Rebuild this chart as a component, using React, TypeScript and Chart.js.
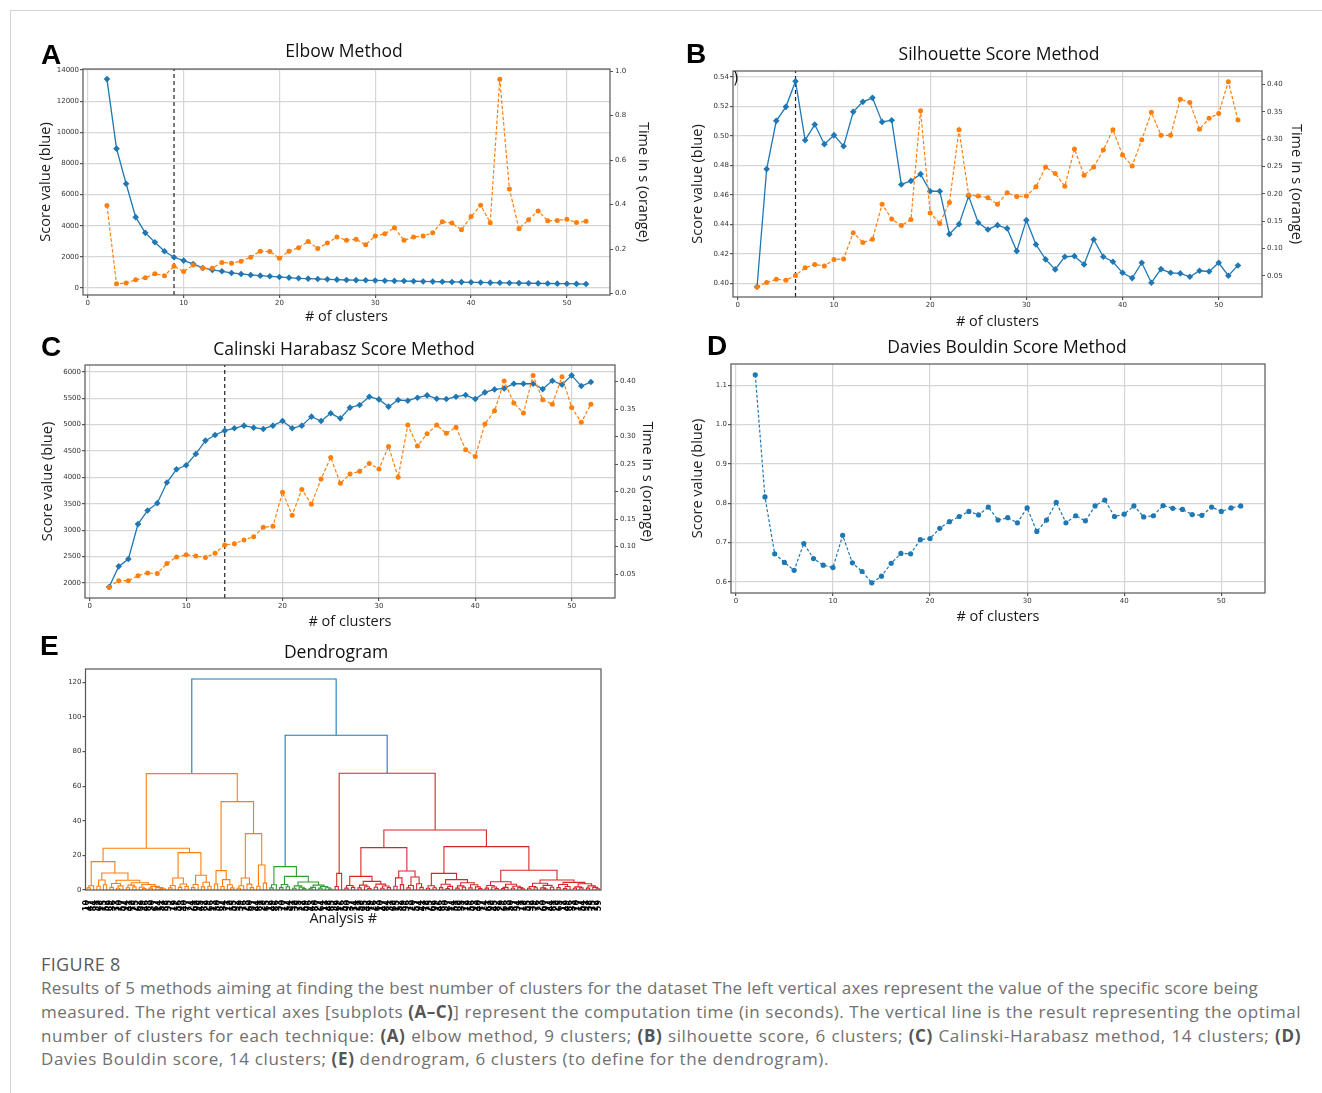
import React, { useEffect, useRef } from 'react';
import { Chart, registerables } from 'chart.js';

Chart.register(...registerables);

// ---------------- data ----------------
const CLUSTERS = [2, 3, 4, 5, 6, 7, 8, 9, 10, 11, 12, 13, 14, 15, 16, 17, 18, 19, 20, 21, 22, 23, 24, 25, 26, 27,
  28, 29, 30, 31, 32, 33, 34, 35, 36, 37, 38, 39, 40, 41, 42, 43, 44, 45, 46, 47, 48, 49, 50, 51, 52];

const ELBOW_SCORE = [13420, 8954, 6700, 4552, 3543, 2942, 2362, 1975, 1761, 1546, 1288, 1160, 1074, 966, 902, 837,
  794, 752, 709, 666, 623, 600, 580, 558, 537, 515, 505, 495, 485, 470, 455, 445, 435, 420, 410, 400, 390, 380, 365,
  355, 345, 335, 325, 315, 305, 300, 290, 280, 275, 265, 255];
const ELBOW_TIME = [0.396, 0.044, 0.048, 0.062, 0.071, 0.089, 0.081, 0.123, 0.099, 0.129, 0.114, 0.114, 0.140, 0.137,
  0.146, 0.164, 0.191, 0.189, 0.159, 0.191, 0.206, 0.234, 0.203, 0.227, 0.254, 0.240, 0.244, 0.220, 0.259, 0.269,
  0.296, 0.240, 0.254, 0.259, 0.274, 0.323, 0.317, 0.287, 0.346, 0.397, 0.319, 0.963, 0.470, 0.292, 0.332, 0.371,
  0.328, 0.329, 0.334, 0.320, 0.325];
const ELBOW_OPTIMAL = 9;

const SIL_SCORE = [0.3977, 0.4775, 0.5102, 0.5197, 0.5371, 0.4971, 0.5077, 0.4944, 0.5005, 0.4930, 0.5163, 0.5231,
  0.5258, 0.5095, 0.5106, 0.4671, 0.4695, 0.4741, 0.4625, 0.4625, 0.4334, 0.4402, 0.4592, 0.4411, 0.4366, 0.4395,
  0.4373, 0.4219, 0.4429, 0.4264, 0.4163, 0.4095, 0.4181, 0.4185, 0.4129, 0.4298, 0.4181, 0.4147, 0.4072, 0.4036,
  0.4140, 0.4005, 0.4097, 0.4072, 0.4068, 0.4045, 0.4086, 0.4081, 0.4140, 0.4052, 0.4122];
const SIL_TIME = [0.030, 0.038, 0.044, 0.042, 0.051, 0.065, 0.071, 0.068, 0.080, 0.081, 0.129, 0.111, 0.117, 0.181,
  0.154, 0.142, 0.153, 0.352, 0.165, 0.146, 0.184, 0.317, 0.198, 0.196, 0.193, 0.181, 0.202, 0.195, 0.196, 0.213,
  0.249, 0.237, 0.214, 0.282, 0.234, 0.249, 0.280, 0.317, 0.271, 0.251, 0.299, 0.349, 0.307, 0.307, 0.373, 0.367,
  0.318, 0.338, 0.347, 0.405, 0.335];
const SIL_OPTIMAL = 6;

const CH_SCORE = [1924, 2315, 2454, 3115, 3373, 3512, 3902, 4154, 4230, 4444, 4696, 4803, 4885, 4929, 4980, 4942,
  4917, 4980, 5068, 4929, 4980, 5150, 5068, 5213, 5118, 5320, 5370, 5528, 5477, 5339, 5465, 5452, 5509, 5553, 5490,
  5483, 5528, 5559, 5483, 5609, 5666, 5685, 5773, 5773, 5773, 5672, 5830, 5754, 5931, 5729, 5805];
const CH_TIME = [0.026, 0.038, 0.038, 0.047, 0.052, 0.051, 0.069, 0.081, 0.085, 0.083, 0.080, 0.088, 0.103, 0.105,
  0.112, 0.118, 0.135, 0.137, 0.199, 0.157, 0.204, 0.177, 0.223, 0.262, 0.215, 0.232, 0.237, 0.251, 0.241, 0.282,
  0.226, 0.321, 0.283, 0.305, 0.321, 0.306, 0.317, 0.276, 0.264, 0.323, 0.347, 0.401, 0.361, 0.343, 0.411, 0.367,
  0.359, 0.409, 0.353, 0.326, 0.359];
const CH_OPTIMAL = 14;

const DB_SCORE = [1.127, 0.816, 0.671, 0.649, 0.629, 0.697, 0.659, 0.642, 0.636, 0.718, 0.648, 0.626, 0.597, 0.614,
  0.647, 0.672, 0.671, 0.707, 0.710, 0.736, 0.753, 0.766, 0.779, 0.770, 0.790, 0.757, 0.763, 0.750, 0.788, 0.728,
  0.757, 0.802, 0.750, 0.768, 0.755, 0.793, 0.808, 0.766, 0.772, 0.793, 0.765, 0.768, 0.794, 0.787, 0.784, 0.771,
  0.769, 0.790, 0.779, 0.788, 0.793];

const X_TICKS = [0, 10, 20, 30, 40, 50];
const ELBOW_TICKS = [0, 2000, 4000, 6000, 8000, 10000, 12000, 14000];
const ELBOW_TIME_TICKS = [0.0, 0.2, 0.4, 0.6, 0.8, 1.0];
const SIL_TICKS = [0.40, 0.42, 0.44, 0.46, 0.48, 0.50, 0.52, 0.54];
const TIME_TICKS = [0.05, 0.10, 0.15, 0.20, 0.25, 0.30, 0.35, 0.40];
const CH_TICKS = [2000, 2500, 3000, 3500, 4000, 4500, 5000, 5500, 6000];
const DB_TICKS = [0.6, 0.7, 0.8, 0.9, 1.0, 1.1];
const DENDRO_TICKS = [0, 20, 40, 60, 80, 100, 120];

// Dendrogram: a node is a leaf (0) or [merge height, left, right]
type DNode = number | [number, DNode, DNode];
const ORANGE_A1: DNode = [16.4,
  [2.5, [1.2, 0, 0], 0],
  [9.8,
    [5.8, [2.2, 0, 0], [3.0, 0, 0]],
    [5.6,
      [3.8, [1.5, 0, 0], [2.4, [1.0, 0, 0], 0]],
      [4.2,
        [2.8, [1.3, 0, 0], [1.8, 0, 0]],
        [3.2, [1.6, 0, [0.9, 0, 0]], [2.1, [1.1, 0, 0], [1.4, 0, [0.7, [0.4, 0, 0], 0]]]]]]]];
const ORANGE_A2: DNode = [21.6,
  [6.9, [2.6, [1.2, 0, 0], 0], [3.5, [1.5, 0, 0], [2.0, 0, 0]]],
  [8.5, [3.2, [1.4, 0, 0], 0], [4.5, [1.8, 0, 0], [2.2, 0, 0]]]];
const ORANGE_B: DNode = [51.1,
  [11.2, [3.5, 0, 0], [6.0, [2.0, 0, 0], [3.0, 0, [1.2, 0, 0]]]],
  [32.6,
    [6.9, [2.5, [1.0, 0, 0], 0], [3.4, 0, [1.4, 0, 0]]],
    [14.5, [2.2, 0, 0], [4.0, 0, 0]]]];
const ORANGE_CLUSTER: DNode = [67.3, [24.1, ORANGE_A1, ORANGE_A2], ORANGE_B];

const GREEN_CLUSTER: DNode = [13.5,
  [3.0, [1.2, 0, 0], 0],
  [7.9,
    [3.2, [1.4, 0, 0], [1.9, 0, 0]],
    [4.6,
      [2.4, [1.0, 0, 0], [1.6, 0, [0.8, 0, 0]]],
      [2.8, [1.5, [0.7, 0, 0], 0], [2.0, [1.1, 0, 0], [1.3, 0, [0.6, 0, 0]]]]]]];

const RED_R1: DNode = [9.6, [2.0, 0, 0], 0];
const RED_R2: DNode = [24.5,
  [7.9,
    [2.6, [1.1, 0, 0], [1.5, 0, 0]],
    [5.0, [2.8, [1.2, 0, 0], [1.9, 0, [0.9, 0, 0]]], [3.4, [1.6, 0, 0], [2.3, [1.0, 0, 0], [1.4, 0, 0]]]]],
  [11.0,
    [7.0, [2.2, 0, 0], [3.1, 0, 0]],
    [7.5, [2.6, [1.2, 0, 0], 0], [3.6, 0, [1.5, 0, 0]]]]];
const RED_R3: DNode = [25.1,
  [9.6,
    [2.5, [1.0, 0, 0], [1.3, 0, 0]],
    [6.0,
      [3.3, [1.4, 0, 0], [2.1, [0.9, 0, 0], 0]],
      [4.2, [2.4, [1.1, 0, 0], [1.6, 0, 0]], [3.0, [1.2, 0, 0], [1.8, 0, [0.8, 0, 0]]]]]],
  [11.4,
    [4.8,
      [2.6, [1.1, 0, 0], [1.7, 0, [0.9, 0, 0]]],
      [3.3, [1.5, [0.8, 0, 0], 0], [2.2, [1.0, 0, 0], [1.4, 0, [0.7, 0, 0]]]]],
    [5.8,
      [3.9, [2.0, [1.0, 0, 0], [1.3, 0, 0]], [2.7, [1.2, 0, [0.6, 0, 0]], [1.6, 0, 0]]],
      [4.4,
        [3.2, [1.4, 0, 0], [2.0, [0.9, 0, 0], 0]],
        [3.6, [1.8, [1.0, 0, 0], [1.2, 0, 0]], [2.4, [1.1, 0, 0], [1.5, 0, [0.7, 0, 0]]]]]]]];
const RED_CLUSTER: DNode = [67.5, RED_R1, [34.7, RED_R2, RED_R3]];

const GREEN_RED_MERGE_H = 89.5;
const ROOT_MERGE_H = 122;

// ---------------- styling ----------------
const BLUE = '#1f77b4';
const ORANGE = '#ff7f0e';
const GREEN = '#2ca02c';
const RED = '#d62728';
const GRID_COLOR = '#d6d6d6';
const SPINE = '#555555';
const TICK_FONT = { family: "'DejaVu Sans', sans-serif", size: 7 };
const TITLE_FONT = { family: "'Open Sans', sans-serif", size: 14.5 };

const framePlugin = {
  id: 'frame',
  afterDatasetsDraw(chart: any) {
    const { ctx, chartArea: a } = chart;
    ctx.save();
    ctx.strokeStyle = SPINE;
    ctx.lineWidth = 1.2;
    ctx.strokeRect(a.left, a.top, a.right - a.left, a.bottom - a.top);
    ctx.restore();
  },
};

interface AxisSpec {
  min: number; max: number; ticks: number[]; digits: number; title?: string; titleX?: number; grid?: boolean;
}
interface PanelSpec {
  box: { l: number; t: number; w: number; h: number };
  plot: { l: number; t: number; r: number; b: number };
  x: { min: number; max: number; ticks: number[]; title: string; titleY: number; grid: boolean; labels?: string[] };
  y: AxisSpec;
  y1?: AxisSpec;
  datasets: any[];
}

function makeConfig(p: PanelSpec): any {
  const boxR = p.box.l + p.box.w;
  const boxB = p.box.t + p.box.h;
  const half = (TITLE_FONT.size * 1.2) / 2;
  const labels = p.x.labels;
  const scales: any = {
    x: {
      type: 'linear', position: 'bottom', min: p.x.min, max: p.x.max,
      afterBuildTicks: (ax: any) => { ax.ticks = p.x.ticks.map((v) => ({ value: v })); },
      afterFit: (ax: any) => { ax.height = boxB - p.plot.b; },
      grid: labels
        ? { display: false }
        : { display: true, drawOnChartArea: p.x.grid, color: GRID_COLOR, lineWidth: 1.2, tickColor: SPINE, tickLength: 3 },
      border: { display: false },
      ticks: labels
        ? { font: { family: "'DejaVu Sans', sans-serif", size: 8, weight: 'bold' }, color: '#000', padding: 2,
            autoSkip: false, minRotation: 90, maxRotation: 90, callback: (_v: any, i: number) => labels[i] }
        : { font: TICK_FONT, color: '#333', padding: 1, autoSkip: false, minRotation: 0, maxRotation: 0,
            callback: (v: any) => String(v) },
      title: { display: true, text: p.x.title, font: TITLE_FONT, color: '#1a1a1a',
        padding: { top: 0, bottom: boxB - p.x.titleY - half } },
    },
    y: {
      type: 'linear', position: 'left', min: p.y.min, max: p.y.max,
      afterBuildTicks: (ax: any) => { ax.ticks = p.y.ticks.map((v) => ({ value: v })); },
      afterFit: (ax: any) => { ax.width = p.plot.l - p.box.l; },
      grid: { display: true, drawOnChartArea: !!p.y.grid, color: GRID_COLOR, lineWidth: 1.2, tickColor: SPINE, tickLength: 3 },
      border: { display: false },
      ticks: { font: TICK_FONT, color: '#333', padding: 1, callback: (v: any) => Number(v).toFixed(p.y.digits) },
      title: p.y.title
        ? { display: true, text: p.y.title, font: TITLE_FONT, color: '#1a1a1a',
            padding: { top: (p.y.titleX as number) - p.box.l - half, bottom: 0 } }
        : { display: false },
    },
  };
  if (p.y1) {
    const y1 = p.y1;
    scales.y1 = {
      type: 'linear', position: 'right', min: y1.min, max: y1.max,
      afterBuildTicks: (ax: any) => { ax.ticks = y1.ticks.map((v) => ({ value: v })); },
      afterFit: (ax: any) => { ax.width = boxR - p.plot.r; },
      grid: { display: true, drawOnChartArea: false, tickColor: SPINE, tickLength: 3 },
      border: { display: false },
      ticks: { font: TICK_FONT, color: '#333', padding: 2, callback: (v: any) => Number(v).toFixed(y1.digits) },
      title: { display: true, text: y1.title, font: TITLE_FONT, color: '#1a1a1a',
        padding: { top: boxR - (y1.titleX as number) - half, bottom: 0 } },
    };
  }
  return {
    type: 'line',
    data: { datasets: p.datasets },
    options: {
      animation: false,
      responsive: false,
      maintainAspectRatio: false,
      layout: { padding: { left: 0, top: p.plot.t - p.box.t, right: p.y1 ? 0 : boxR - p.plot.r, bottom: 0 } },
      plugins: { legend: { display: false }, tooltip: { enabled: false }, title: { display: false } },
      elements: { line: { tension: 0 } },
      scales,
    },
    plugins: [framePlugin],
  };
}

function scoreSet(values: number[]) {
  return {
    label: 'score', data: CLUSTERS.map((x, i) => ({ x, y: values[i] })), yAxisID: 'y',
    borderColor: BLUE, backgroundColor: BLUE, borderWidth: 1.3, pointStyle: 'rectRot', pointRadius: 3.3,
    pointBorderWidth: 0, fill: false, order: 2,
  };
}
function timeSet(values: number[]) {
  return {
    label: 'time', data: CLUSTERS.map((x, i) => ({ x, y: values[i] })), yAxisID: 'y1',
    borderColor: ORANGE, backgroundColor: ORANGE, borderWidth: 1.2, borderDash: [3.5, 2], pointStyle: 'circle',
    pointRadius: 2.5, pointBorderWidth: 0, fill: false, order: 1,
  };
}
function optimalSet(x: number, min: number, max: number) {
  return {
    label: 'optimal', data: [{ x, y: min }, { x, y: max }], yAxisID: 'y', borderColor: '#222',
    borderWidth: 1.2, borderDash: [4, 3], pointRadius: 0, fill: false, order: 3,
  };
}

function buildDendrogram() {
  const segs: Record<string, { x: number; y: number | null }[]> = { C0: [], C1: [], C2: [], C3: [] };
  let leaf = 0;
  const link = (A: { x: number; y: number }, B: { x: number; y: number }, h: number, color: string) => {
    segs[color].push({ x: A.x, y: A.y }, { x: A.x, y: h }, { x: B.x, y: h }, { x: B.x, y: B.y }, { x: B.x, y: null });
    return { x: (A.x + B.x) / 2, y: h };
  };
  const walk = (n: DNode, color: string): { x: number; y: number } => {
    if (typeof n === 'number') {
      const x = 5 + 10 * leaf;
      leaf += 1;
      return { x, y: 0 };
    }
    const A = walk(n[1], color);
    const B = walk(n[2], color);
    return link(A, B, n[0], color);
  };
  const o = walk(ORANGE_CLUSTER, 'C1');
  const g = walk(GREEN_CLUSTER, 'C2');
  const r = walk(RED_CLUSTER, 'C3');
  const gr = link(g, r, GREEN_RED_MERGE_H, 'C0');
  link(o, gr, ROOT_MERGE_H, 'C0');
  return { segs, n: leaf };
}

const lineSet = (data: any[], color: string) => ({
  data, borderColor: color, borderWidth: 1.1, pointRadius: 0, fill: false, spanGaps: false,
  borderCapStyle: 'butt', borderJoinStyle: 'miter',
});

// ---------------- component ----------------
export default function App() {
  const refA = useRef<HTMLCanvasElement>(null);
  const refB = useRef<HTMLCanvasElement>(null);
  const refC = useRef<HTMLCanvasElement>(null);
  const refD = useRef<HTMLCanvasElement>(null);
  const refE = useRef<HTMLCanvasElement>(null);
  const capRefs = useRef<(HTMLDivElement | null)[]>([]);

  const specA: PanelSpec = {
    box: { l: 28, t: 62, w: 640, h: 270 }, plot: { l: 83, t: 69, r: 610, b: 295 },
    x: { min: -0.5, max: 54.5, ticks: X_TICKS, title: '# of clusters', titleY: 317, grid: true },
    y: { min: -450, max: 14070, ticks: ELBOW_TICKS, digits: 0, title: 'Score value (blue)', titleX: 46, grid: true },
    y1: { min: -0.006, max: 1.009, ticks: ELBOW_TIME_TICKS, digits: 1, title: 'Time in s (orange)', titleX: 643 },
    datasets: [scoreSet(ELBOW_SCORE), timeSet(ELBOW_TIME), optimalSet(ELBOW_OPTIMAL, -450, 14070)],
  };
  const specB: PanelSpec = {
    box: { l: 680, t: 62, w: 640, h: 270 }, plot: { l: 733, t: 71, r: 1262, b: 297 },
    x: { min: -0.5, max: 54.5, ticks: X_TICKS, title: '# of clusters', titleY: 321.5, grid: true },
    y: { min: 0.3908, max: 0.544, ticks: SIL_TICKS, digits: 2, title: 'Score value (blue)', titleX: 698, grid: true },
    y1: { min: 0.0115, max: 0.4245, ticks: TIME_TICKS, digits: 2, title: 'Time in s (orange)', titleX: 1296 },
    datasets: [scoreSet(SIL_SCORE), timeSet(SIL_TIME), optimalSet(SIL_OPTIMAL, 0.3908, 0.544)],
  };
  const specC: PanelSpec = {
    box: { l: 28, t: 356, w: 640, h: 280 }, plot: { l: 85, t: 365, r: 615, b: 598 },
    x: { min: -0.5, max: 54.5, ticks: X_TICKS, title: '# of clusters', titleY: 621.5, grid: true },
    y: { min: 1716, max: 6128, ticks: CH_TICKS, digits: 0, title: 'Score value (blue)', titleX: 48, grid: true },
    y1: { min: 0.0064, max: 0.4303, ticks: TIME_TICKS, digits: 2, title: 'Time in s (orange)', titleX: 647 },
    datasets: [scoreSet(CH_SCORE), timeSet(CH_TIME), optimalSet(CH_OPTIMAL, 1716, 6128)],
  };
  const specD: PanelSpec = {
    box: { l: 680, t: 356, w: 620, h: 280 }, plot: { l: 731, t: 364, r: 1265, b: 593 },
    x: { min: -0.5, max: 54.5, ticks: X_TICKS, title: '# of clusters', titleY: 616.5, grid: true },
    y: { min: 0.5712, max: 1.1545, ticks: DB_TICKS, digits: 1, title: 'Score value (blue)', titleX: 698, grid: true },
    datasets: [{
      label: 'db', data: CLUSTERS.map((x, i) => ({ x, y: DB_SCORE[i] })), yAxisID: 'y',
      borderColor: BLUE, backgroundColor: BLUE, borderWidth: 1.2, borderDash: [3, 2], pointStyle: 'circle',
      pointRadius: 2.6, pointBorderWidth: 0, fill: false,
    }],
  };

  useEffect(() => {
    const dendro = buildDendrogram();
    const leafTicks: number[] = [];
    const leafLabels: string[] = [];
    for (let i = 0; i < dendro.n; i++) {
      leafTicks.push(5 + 10 * i);
      leafLabels.push(String(10 + ((i * 37) % 90)));
    }
    const specE: PanelSpec = {
      box: { l: 28, t: 660, w: 600, h: 270 }, plot: { l: 85.5, t: 669, r: 601, b: 890 },
      x: { min: 0, max: 10 * dendro.n, ticks: leafTicks, labels: leafLabels, title: 'Analysis #', titleY: 919, grid: false },
      y: { min: 0, max: 127.8, ticks: DENDRO_TICKS, digits: 0, grid: false },
      datasets: [
        lineSet(dendro.segs.C1, ORANGE), lineSet(dendro.segs.C2, GREEN),
        lineSet(dendro.segs.C3, RED), lineSet(dendro.segs.C0, BLUE),
      ],
    };
    const charts = [
      new Chart(refA.current as HTMLCanvasElement, makeConfig(specA)),
      new Chart(refB.current as HTMLCanvasElement, makeConfig(specB)),
      new Chart(refC.current as HTMLCanvasElement, makeConfig(specC)),
      new Chart(refD.current as HTMLCanvasElement, makeConfig(specD)),
      new Chart(refE.current as HTMLCanvasElement, makeConfig(specE)),
    ];
    // fit caption lines: the last line sets the natural letter spacing (it spans 788 px in the figure)
    const divs = capRefs.current.filter(Boolean) as HTMLDivElement[];
    const measure = (d: HTMLDivElement) => (d.firstElementChild as HTMLElement).getBoundingClientRect().width;
    const textLen = (d: HTMLDivElement) => ((d.firstElementChild as HTMLElement).textContent || '').length;
    const last = divs[divs.length - 1];
    if (last) {
      const w4 = measure(last);
      const base = (788 - w4) / textLen(last);
      divs.forEach((d) => { d.style.letterSpacing = base.toFixed(3) + 'px'; });
      divs.forEach((d) => {
        const target = Number(d.dataset.target);
        if (d === last) return;
        const w = measure(d);
        if (w > target - 3) {
          d.style.letterSpacing = (base + (target - 5 - w) / textLen(d)).toFixed(3) + 'px';
        }
      });
    }
    return () => charts.forEach((c) => c.destroy());
  }, []);

  const canvasStyle = (s: PanelSpec): React.CSSProperties => ({ position: 'absolute', left: s.box.l, top: s.box.t });
  const letter = (ch: string, left: number, top: number) => (
    <span style={{ position: 'absolute', left, top, font: "bold 28px 'Liberation Sans', Arial, sans-serif", lineHeight: 1, color: '#000' }}>{ch}</span>
  );
  const title = (text: string, cx: number, top: number) => (
    <span style={{ position: 'absolute', left: cx, top, transform: 'translateX(-50%)', whiteSpace: 'nowrap',
      font: "17.5px 'Open Sans', sans-serif", lineHeight: 1, color: '#111' }}>{text}</span>
  );
  const capBase: React.CSSProperties = {
    position: 'absolute', left: 41, font: "17px 'Open Sans', sans-serif", lineHeight: '24px', color: '#707070',
    whiteSpace: 'nowrap',
  };
  const B = (t: string) => <b style={{ fontWeight: 700, color: '#555' }}>{t}</b>;
  const capLine = (i: number, top: number, target: number, justify: boolean, content: React.ReactNode) => (
    <div ref={(el) => { capRefs.current[i] = el; }} data-target={target}
      style={{ ...capBase, top, width: target, textAlign: justify ? 'justify' : 'left', textAlignLast: justify ? 'justify' : 'left' } as React.CSSProperties}>
      <span>{content}</span>
    </div>
  );

  return (
    <div style={{ position: 'absolute', left: 0, top: 0, width: 1322, height: 1093, overflow: 'hidden', background: '#fff' }}>
      <div style={{ position: 'absolute', left: 10, top: 10, width: 1330, height: 1100, borderTop: '1px solid #d4d4d4', borderLeft: '1px solid #d4d4d4' }} />
      <canvas ref={refA} width={specA.box.w} height={specA.box.h} style={canvasStyle(specA)} />
      <canvas ref={refB} width={specB.box.w} height={specB.box.h} style={canvasStyle(specB)} />
      <canvas ref={refC} width={specC.box.w} height={specC.box.h} style={canvasStyle(specC)} />
      <canvas ref={refD} width={specD.box.w} height={specD.box.h} style={canvasStyle(specD)} />
      <canvas ref={refE} width={600} height={270} style={{ position: 'absolute', left: 28, top: 660 }} />
      {letter('A', 41, 41.3)}
      {letter('B', 686, 40.3)}
      {letter('C', 41, 333.3)}
      {letter('D', 707, 332.3)}
      {letter('E', 40, 632.3)}
      {title('Elbow Method', 344, 41.5)}
      {title('Silhouette Score Method', 999, 44.5)}
      {title('Calinski Harabasz Score Method', 344, 340)}
      {title('Davies Bouldin Score Method', 1007, 337.5)}
      {title('Dendrogram', 336, 642.5)}
      <span style={{ position: 'absolute', left: 733, top: 71, font: "15px 'DejaVu Sans', sans-serif", lineHeight: 1, color: '#111' }}>)</span>
      <div style={{ position: 'absolute', left: 41, top: 952, font: "500 18px 'Open Sans', sans-serif", lineHeight: '24px', color: '#5a5a5a', letterSpacing: '0.4px' }}>FIGURE 8</div>
      {capLine(0, 976, 1217, true, 'Results of 5 methods aiming at finding the best number of clusters for the dataset The left vertical axes represent the value of the specific score being')}
      {capLine(1, 1000, 1260, true, <>measured. The right vertical axes [subplots {B('(A–C)')}] represent the computation time (in seconds). The vertical line is the result representing the optimal</>)}
      {capLine(2, 1024, 1260, true, <>number of clusters for each technique: {B('(A)')} elbow method, 9 clusters; {B('(B)')} silhouette score, 6 clusters; {B('(C)')} Calinski-Harabasz method, 14 clusters; {B('(D)')}</>)}
      {capLine(3, 1047.3, 1260, false, <>Davies Bouldin score, 14 clusters; {B('(E)')} dendrogram, 6 clusters (to define for the dendrogram).</>)}
    </div>
  );
}
